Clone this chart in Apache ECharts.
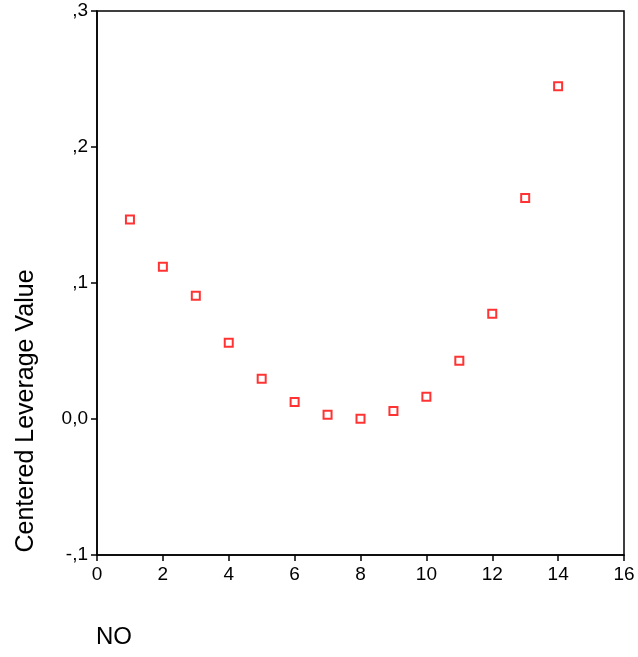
<!DOCTYPE html>
<html>
<head>
<meta charset="utf-8">
<script src="https://cdn.jsdelivr.net/npm/echarts@6/dist/echarts.min.js"></script>
<style>
  html, body { margin: 0; padding: 0; background: #fff; }
  #chart { width: 638px; height: 657px; }
</style>
</head>
<body>
<div id="chart"></div>
<script>
// Case number (NO) against centered leverage value
const caseNo = [1, 2, 3, 4, 5, 6, 7, 8, 9, 10, 11, 12, 13, 14];
const leverage = [0.1466, 0.1120, 0.0907, 0.0561, 0.0296, 0.0125, 0.0032,
                  0.0002, 0.0059, 0.0164, 0.0429, 0.0774, 0.1625, 0.2446];
const yTickLabels = { '-0.1': '-,1', '0': '0,0', '0.1': ',1', '0.2': ',2', '0.3': ',3' };

const chart = echarts.init(document.getElementById('chart'));
const font = 'Liberation Sans, Arial, sans-serif';

chart.setOption({
  animation: false,
  backgroundColor: '#fff',
  grid: {
    left: 97, right: 14, top: 11, bottom: 102,
    show: true, borderColor: '#000', borderWidth: 1.5, backgroundColor: 'transparent'
  },
  xAxis: {
    type: 'value', min: 0, max: 16, interval: 2,
    axisLine: { show: true, onZero: false, lineStyle: { color: '#000', width: 1.5 } },
    axisTick: { show: true, length: 6, lineStyle: { color: '#000', width: 1.5 } },
    axisLabel: { color: '#000', fontSize: 19, fontFamily: font, margin: 10 },
    splitLine: { show: false }
  },
  yAxis: {
    type: 'value', min: -0.1, max: 0.3, interval: 0.1,
    axisLine: { show: true, onZero: false, lineStyle: { color: '#000', width: 1.5 } },
    axisTick: { show: true, length: 6, lineStyle: { color: '#000', width: 1.5 } },
    axisLabel: {
      color: '#000', fontSize: 19, fontFamily: font, margin: 9,
      formatter: v => yTickLabels[String(Math.round(v * 10) / 10)] ?? ''
    },
    splitLine: { show: false }
  },
  graphic: [
    {
      type: 'text', x: 96, y: 637,
      style: {
        text: 'NO', fontSize: 24, fontFamily: font, fill: '#000',
        align: 'left', verticalAlign: 'middle'
      }
    },
    {
      type: 'text', x: 26, y: 411, rotation: Math.PI / 2,
      style: {
        text: 'Centered Leverage Value', fontSize: 25, fontFamily: font, fill: '#000',
        align: 'center', verticalAlign: 'middle'
      }
    }
  ],
  series: [{
    type: 'scatter',
    data: caseNo.map((n, i) => [n, leverage[i]]),
    symbol: 'rect',
    symbolSize: 8,
    itemStyle: { color: '#fff', borderColor: '#ff0000', borderWidth: 2 }
  }]
});
</script>
</body>
</html>
